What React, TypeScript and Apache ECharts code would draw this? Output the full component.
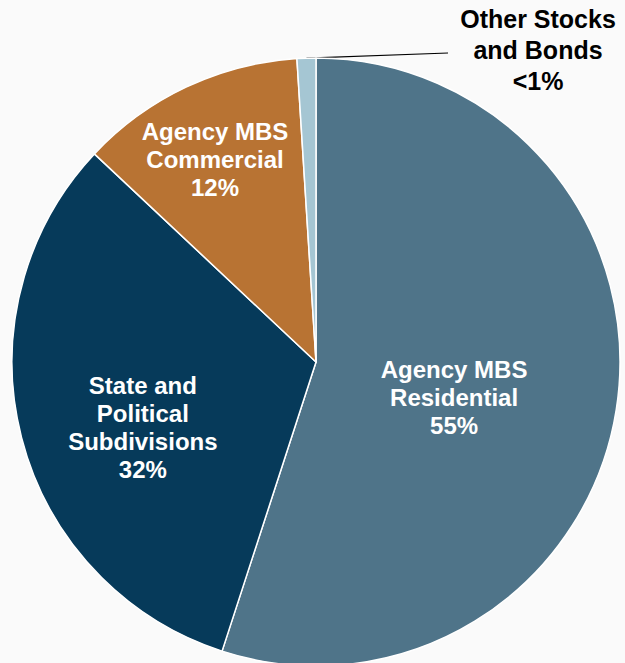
import React, { useEffect, useRef } from "react";
import * as echarts from "echarts";

const categories = [
  "Agency MBS Residential",
  "State and Political Subdivisions",
  "Agency MBS Commercial",
  "Other Stocks and Bonds",
];
const labelNames = [
  "Agency MBS\nResidential",
  "State and\nPolitical\nSubdivisions",
  "Agency MBS\nCommercial",
  "Other Stocks\nand Bonds",
];
const values = [55, 32, 12, 1];
const pctLabels = ["55%", "32%", "12%", "<1%"];
const colors = ["#4f7489", "#063a5a", "#b87333", "#a5c6d3"];
const labelOffsets: [number, number][] = [
  [-15, 11],
  [-23, 27],
  [-35, -62],
  [0, 0],
];

export default function App() {
  const ref = useRef<HTMLDivElement>(null);
  useEffect(() => {
    if (!ref.current) return;
    const chart = echarts.init(ref.current, undefined, { renderer: "svg" });
    const font = "Arial, 'Liberation Sans', Helvetica, sans-serif";
    const data = categories.map((name, i) => {
      const inside = i < 3;
      return {
        name,
        value: values[i],
        itemStyle: { color: colors[i] },
        label: inside
          ? {
              show: true,
              position: "inside",
              formatter: labelNames[i] + "\n" + pctLabels[i],
              color: "#ffffff",
              fontSize: 24,
              lineHeight: 28,
              fontWeight: "bold",
              fontFamily: font,
              align: "center",
              offset: labelOffsets[i],
            }
          : {
              show: true,
              position: "outside",
              formatter: labelNames[i] + "\n" + pctLabels[i],
              color: "#000000",
              fontSize: 25,
              lineHeight: 31,
              fontWeight: "bold",
              fontFamily: font,
              align: "center",
            },
        labelLine: inside
          ? { show: false }
          : { show: true, length: 5, length2: 20, lineStyle: { color: "#000", width: 1.2 } },
      };
    });
    chart.setOption({
      animation: false,
      backgroundColor: "#fafafa",
      series: [
        {
          type: "pie",
          center: [316, 362],
          radius: 304,
          startAngle: 90,
          clockwise: true,
          itemStyle: { borderColor: "#ffffff", borderWidth: 1.5 },
          data,
          labelLayout: (params: any) => {
            if (params.dataIndex !== 3) return {};
            const p0 = params.labelLinePoints ? params.labelLinePoints[0] : [306, 58];
            const cx = 538;
            const cy = 50;
            const halfW = 84;
            return {
              x: cx,
              y: cy,
              align: "center",
              verticalAlign: "middle",
              labelLinePoints: [p0, p0, [cx - halfW - 6, cy + 3]],
            };
          },
        },
      ],
    });
    return () => chart.dispose();
  }, []);
  return (
    <div
      ref={ref}
      style={{ position: "fixed", left: 0, top: 0, width: 625, height: 663 }}
    />
  );
}
